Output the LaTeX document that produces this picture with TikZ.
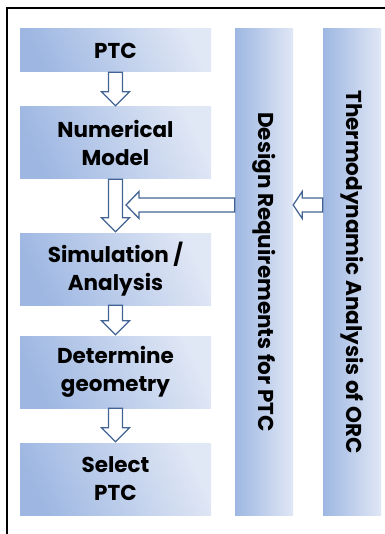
\documentclass[tikz,border=0pt]{standalone}
\usepackage{fontspec}
\usepackage{graphicx}
\setmainfont{Poppins}
\usetikzlibrary{calc}

\definecolor{boxdark}{RGB}{158,183,226}
\definecolor{boxlight}{RGB}{224,231,245}
\definecolor{arrowblue}{RGB}{66,100,148}

\tikzset{
  boxtext/.style={font=\bfseries\fontsize{21.5}{28}\selectfont, text=black, align=center, inner sep=0pt},
  stepbox/.style={boxtext, minimum width=191pt, minimum height=72pt, left color=boxdark, right color=boxlight, shading angle=115},
  colbox/.style={boxtext, minimum width=58pt, minimum height=486pt, left color=boxdark, right color=boxlight},
  hollow/.style={draw=arrowblue, fill=white, line width=1.3pt, line join=miter}
}

% hollow arrow pointing down, from box #1 to box #2
\newcommand{\arrowdown}[2]{%
  \draw[hollow] ($(#1.south)+(-7,0)$) -- ($(#2.north)+(-7,-15)$) -- ($(#2.north)+(-14,-15)$)
    -- ($(#2.north)+(0,-1)$) -- ($(#2.north)+(14,-15)$) -- ($(#2.north)+(7,-15)$)
    -- ($(#1.south)+(7,0)$) -- cycle;}
% hollow arrow pointing left, from #1 to tip #2, head length #3
\newcommand{\arrowleft}[3]{%
  \draw[hollow] ($(#1)+(0,-7)$) -- ($(#2)+(#3,-7)$) -- ($(#2)+(#3,-13.5)$) -- (#2)
    -- ($(#2)+(#3,13.5)$) -- ($(#2)+(#3,7)$) -- ($(#1)+(0,7)$) -- cycle;}

\begin{document}
\begin{tikzpicture}[x=1pt,y=-1pt]
  \useasboundingbox (0,0) rectangle (384,534);
  \draw[line width=2.5pt] (7,540) -- (7,8) -- (390,8); % Frame

  \node[stepbox, minimum height=43pt] (ptc) at (115.5,50.5) {PTC};
  \node[stepbox] (model) at (115.5,143) {Numerical\\Model};
  \node[stepbox] (sim) at (115.5,269) {Simulation /\\Analysis};
  \node[stepbox] (geom) at (115.5,372) {Determine\\geometry};
  \node[stepbox] (select) at (115.5,479) {Select\\PTC};

  \node[colbox] (design) at (264,272) {\rotatebox{-90}{Design Requirements for PTC}};
  \node[colbox] (thermo) at (352,272) {\rotatebox{-90}{Thermodynamic Analysis of ORC}};

  \arrowdown{ptc}{model}
  \arrowdown{model}{sim}
  \arrowdown{sim}{geom}
  \arrowdown{geom}{select}

  \coordinate (merge) at (126,205); % tip on the model arrow
  \arrowleft{design.west |- merge}{merge}{13}
  \arrowleft{thermo.west |- merge}{design.east |- merge}{9}
\end{tikzpicture}
\end{document}
